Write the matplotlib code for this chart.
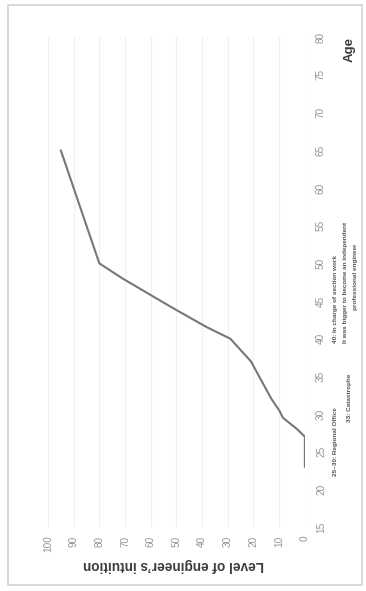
"""
Engineer's intuition vs. age, drawn on its side: age runs up the page,
intuition level runs right-to-left.
"""
import matplotlib.pyplot as plt
import matplotlib.transforms as mtransforms
from matplotlib.patches import Rectangle

plt.rcParams["font.family"] = ["Liberation Sans", "DejaVu Sans"]

# ── Data ────────────────────────────────────────────────────────────────────
AGE   = [23, 27, 28, 29.5, 30.5, 32, 34.5, 37, 40, 41.5, 44, 46, 48, 50, 65]
LEVEL = [0,  0,  3,  8.5,  10,   13, 17,   21, 29, 38,   51, 61, 71, 80, 95]

AGE_TICKS   = list(range(15, 81, 5))
LEVEL_TICKS = list(range(0, 101, 10))

# career notes: (text, age where the note starts, x offset in axes fraction)
NOTES = [
    ("25~30: Regional Office",                   21.8, 1.120),
    ("33: Catastrophe",                          28.9, 1.175),
    ("40: In charge of section work",            39.4, 1.120),
    ("It was bigger to become an independent",   39.4, 1.158),
    ("professional engineer",                    43.8, 1.197),
]

GRAY_TXT = "#939393"
DARK_TXT = "#3c3c3c"
LINE_CLR = "#777777"

fig = plt.figure(figsize=(3.66, 5.91), dpi=100, facecolor="white")
ax = fig.add_axes([0.131, 0.108, 0.702, 0.829])

ax.plot(LEVEL, AGE, color=LINE_CLR, linewidth=1.5, solid_capstyle="round")

ax.set_xlim(100, 0)
ax.set_ylim(15, 80)
ax.set_xticks(LEVEL_TICKS)
ax.set_yticks(AGE_TICKS)
ax.yaxis.tick_right()
ax.tick_params(length=0, labelcolor=GRAY_TXT, labelsize=7.2)
ax.tick_params(axis="x", pad=6, labelrotation=90)
ax.tick_params(axis="y", pad=8, labelrotation=90)
for lbl in ax.get_yticklabels():
    lbl.set_va("center")

ax.grid(axis="x", color="#efefef", linewidth=0.8)
ax.set_axisbelow(True)
for s in ax.spines.values():
    s.set_visible(False)

# axis titles
ax.text(0.49, -0.078, "Level of engineer\u2019s intuition", transform=ax.transAxes,
        rotation=180, ha="center", va="center", fontsize=9.8,
        fontweight="bold", color=DARK_TXT)
ax.text(1.175, 0.975, "Age", transform=ax.transAxes, rotation=90,
        ha="center", va="center", fontsize=9.5, fontweight="bold", color=DARK_TXT)

# notes along the age axis
trans = mtransforms.blended_transform_factory(ax.transAxes, ax.transData)
for text, age, xoff in NOTES:
    ax.text(xoff, age, text, transform=trans, rotation=90, ha="center",
            va="bottom", fontsize=4.6, fontweight="bold", color="#555555",
            clip_on=False)

# thin frame round the whole figure
fig.patches.append(Rectangle((0.022, 0.01), 0.968, 0.982,
                             transform=fig.transFigure, fill=False,
                             edgecolor="#d2d2d2", linewidth=1.2))

fig.savefig("out.png", dpi=100, facecolor="white")
